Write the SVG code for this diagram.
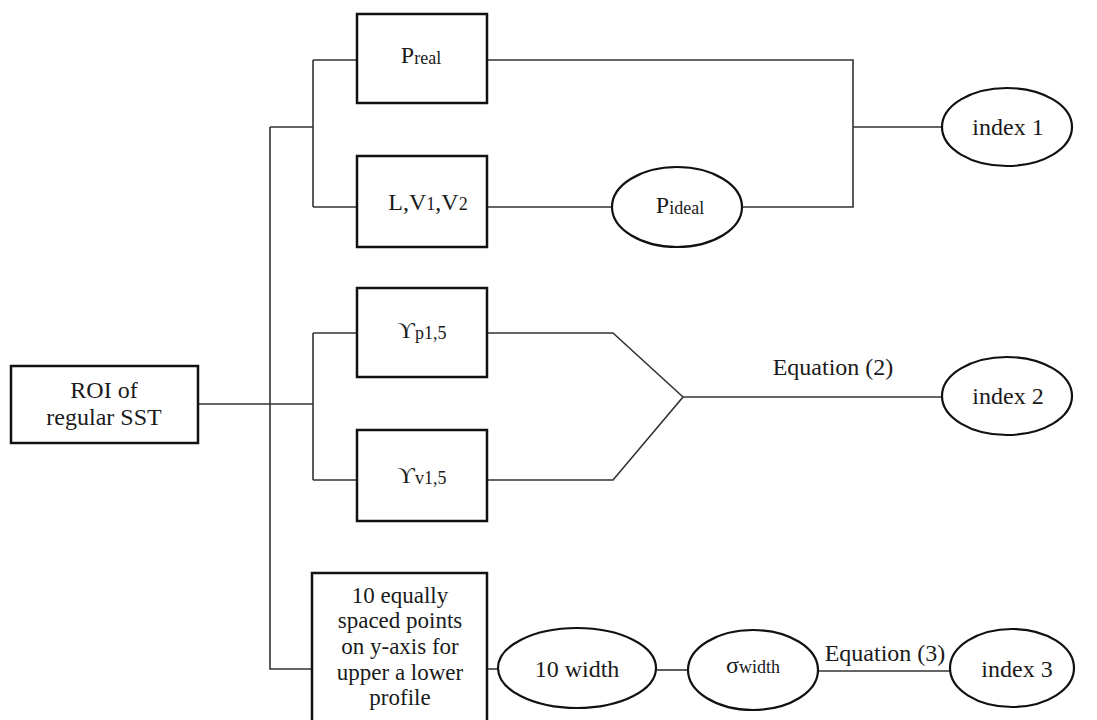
<svg xmlns="http://www.w3.org/2000/svg" width="1097" height="720" viewBox="0 0 1097 720">
<style>
.box{fill:#fff;stroke:#111;stroke-width:2.5}
.ell{fill:#fff;stroke:#111;stroke-width:2.2}
.c{fill:none;stroke:#333;stroke-width:1.6}
text{font-family:'Liberation Serif','DejaVu Serif',serif;font-size:24px;fill:#1a1a1a;text-anchor:middle}
.s{font-size:18px}
.m{font-size:23px}
</style>
<rect width="1097" height="720" fill="#fff"/>
<g id="connectors">
<path class="c" d="M198 404 H313"/>
<path class="c" d="M270 127 V669 H312"/>
<path class="c" d="M270 127 H313 M313 60 V207 M313 60 H357 M313 207 H357"/>
<path class="c" d="M313 333 V480 M313 333 H357 M313 480 H357"/>
<path class="c" d="M487 60 H853 V207 H743 M853 127 H942"/>
<path class="c" d="M487 207 H612"/>
<path class="c" d="M487 333 H613 L683 397 L613 480 H487 M683 397 H942"/>
<path class="c" d="M487 669 H498"/>
<path class="c" d="M657 670 H688"/>
<path class="c" d="M818 671 H950"/>
<text x="833" y="375">Equation (2)</text>
<text x="885" y="661">Equation (3)</text>
</g>
<g id="roi"><rect class="box" x="11" y="366" width="187" height="77"/><text x="104" y="398">ROI of</text><text x="104" y="425">regular SST</text></g>
<g id="preal"><rect class="box" x="357" y="14" width="130" height="89"/><text x="421" y="63">P<tspan class="s" dy="1">real</tspan></text></g>
<g id="lvv"><rect class="box" x="357" y="156" width="130" height="91"/><text x="428" y="210">L,V<tspan class="s">1</tspan>,V<tspan class="s">2</tspan></text></g>
<g id="yp"><rect class="box" x="357" y="288" width="130" height="89"/><text x="422" y="338">ϒ<tspan class="s" dy="1">p1,5</tspan></text></g>
<g id="yv"><rect class="box" x="357" y="430" width="130" height="91"/><text x="422" y="483">ϒ<tspan class="s" dy="1">v1,5</tspan></text></g>
<g id="points"><rect class="box" x="312" y="573" width="175" height="160"/>
<text class="m" x="400" y="603">10 equally</text><text class="m" x="400" y="628">spaced points</text><text class="m" x="400" y="654">on y-axis for</text><text class="m" x="400" y="680">upper a lower</text><text class="m" x="400" y="705">profile</text></g>
<g id="pideal"><ellipse class="ell" cx="677" cy="207" rx="65" ry="40"/><text x="680" y="213">P<tspan class="s" dy="1">ideal</tspan></text></g>
<g id="index1"><ellipse class="ell" cx="1007" cy="127" rx="65" ry="39"/><text x="1008" y="135">index 1</text></g>
<g id="index2"><ellipse class="ell" cx="1007" cy="396" rx="65" ry="39"/><text x="1008" y="404">index 2</text></g>
<g id="width10"><ellipse class="ell" cx="577" cy="668" rx="79" ry="40"/><text x="577" y="677">10 width</text></g>
<g id="sigma"><ellipse class="ell" cx="753" cy="670" rx="65" ry="40"/><text x="753" y="673">σ<tspan class="s">width</tspan></text></g>
<g id="index3"><ellipse class="ell" cx="1012" cy="668" rx="62" ry="39"/><text x="1017" y="677">index 3</text></g>
</svg>
